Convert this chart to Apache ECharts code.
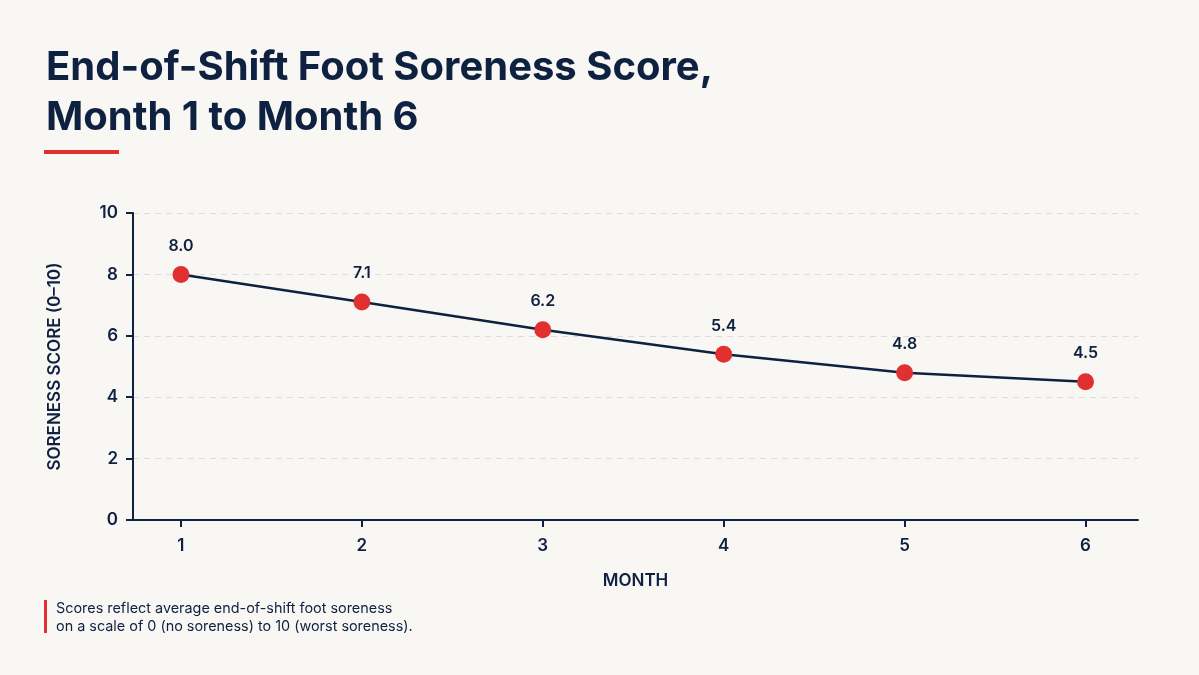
<!DOCTYPE html>
<html>
<head>
<meta charset="utf-8">
<script src="https://cdn.jsdelivr.net/npm/echarts@6/dist/echarts.min.js"></script>
<style>
  html, body { margin: 0; padding: 0; background: #f8f7f4; }
  #chart { width: 1199px; height: 675px; }
</style>
</head>
<body>
<div id="chart"></div>
<script>
// data
var months = [1, 2, 3, 4, 5, 6];
var soreness = [8.0, 7.1, 6.2, 5.4, 4.8, 4.5];
var yTicks = [0, 2, 4, 6, 8, 10];

var navy = '#0f2141';
var red = '#e0302f';
var font = 'Inter, "Noto Sans", sans-serif';

var points = [];
for (var i = 0; i < months.length; i++) {
    points.push([months[i], soreness[i]]);
}

var chart = echarts.init(document.getElementById('chart'));
chart.setOption({
    backgroundColor: '#f8f7f4',
    title: {
        text: 'End-of-Shift Foot Soreness Score,\nMonth 1 to Month 6',
        left: 41,
        top: 38,
        textStyle: {
            color: navy, fontFamily: font, fontSize: 40, fontWeight: 700, lineHeight: 50
        }
    },
    graphic: [
        { type: 'rect', left: 44, top: 150, shape: { width: 75, height: 4 }, style: { fill: red } },
        { type: 'rect', left: 44, top: 600, shape: { width: 3, height: 33 }, style: { fill: red } },
        {
            type: 'text', left: 56, top: 600,
            style: {
                text: 'Scores reflect average end-of-shift foot soreness\non a scale of 0 (no soreness) to 10 (worst soreness).',
                fill: navy, font: '14.4px ' + font, lineHeight: 18
            }
        }
    ],
    grid: { left: 133, right: 61, top: 213, bottom: 155 },
    xAxis: {
        type: 'value',
        min: 0.735,
        max: 6.29,
        name: 'MONTH',
        nameLocation: 'middle',
        nameGap: 52,
        nameTextStyle: { color: navy, fontFamily: font, fontSize: 17, fontWeight: 600 },
        axisLine: { show: true, lineStyle: { color: navy, width: 2 } },
        axisTick: { show: true, length: 7, lineStyle: { color: navy, width: 2 }, customValues: months },
        axisLabel: { color: navy, fontFamily: font, fontSize: 17, fontWeight: 600, margin: 17, customValues: months },
        splitLine: { show: false }
    },
    yAxis: {
        type: 'value',
        min: 0,
        max: 10,
        interval: 2,
        name: 'SORENESS SCORE (0\u201310)',
        nameLocation: 'middle',
        nameGap: 70,
        nameTextStyle: { color: navy, fontFamily: font, fontSize: 17, fontWeight: 600 },
        axisLine: { show: true, lineStyle: { color: navy, width: 2 } },
        axisTick: { show: true, length: 7, lineStyle: { color: navy, width: 2 } },
        axisLabel: { color: navy, fontFamily: font, fontSize: 17, fontWeight: 600, margin: 15 },
        splitLine: { show: true, lineStyle: { color: '#dcdcdc', type: [6, 5], width: 1 } }
    },
    series: [{
        type: 'line',
        data: points,
        symbol: 'circle',
        symbolSize: 17,
        itemStyle: { color: red },
        lineStyle: { color: navy, width: 2.5 },
        label: {
            show: true,
            position: 'top',
            distance: 12,
            color: navy,
            fontFamily: font,
            fontSize: 16,
            fontWeight: 600,
            formatter: function (p) { return p.value[1].toFixed(1); }
        },
        z: 3
    }]
});
</script>
</body>
</html>
